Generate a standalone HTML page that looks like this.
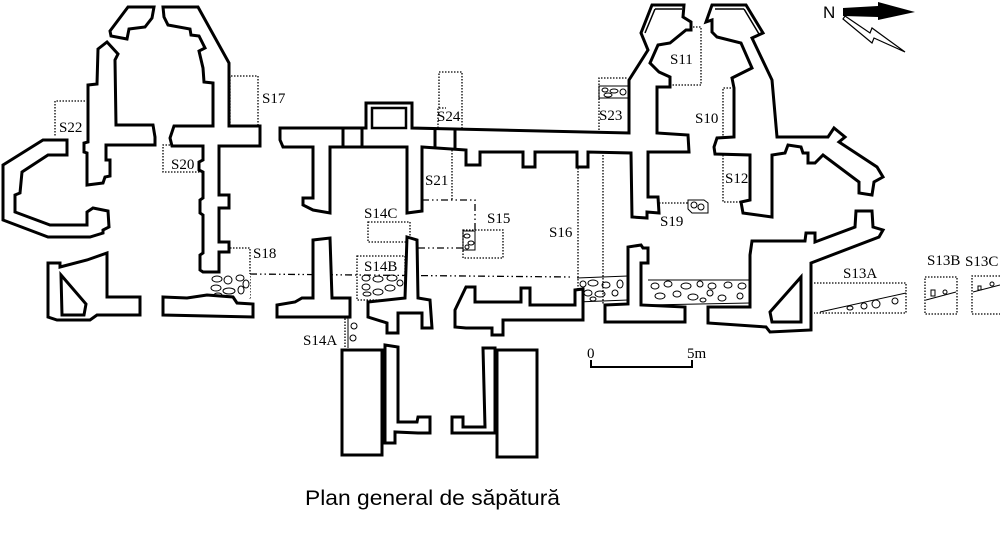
<!DOCTYPE html>
<html><head><meta charset="utf-8"><style>
html,body{margin:0;padding:0;background:#fff;}
svg{display:block;}
.w{fill:#fff;stroke:#000;stroke-width:3;stroke-linejoin:miter;}
.d{fill:none;stroke:#000;stroke-width:1.3;stroke-dasharray:1.5 1.5;}
.dd{fill:none;stroke:#000;stroke-width:1.3;stroke-dasharray:7 3 1.5 3 1.5 3;}
.t{font-family:"Liberation Serif",serif;font-size:15px;fill:#000;}
.s{fill:none;stroke:#000;stroke-width:1;}
</style></head><body>
<svg width="1000" height="534" viewBox="0 0 1000 534" xmlns="http://www.w3.org/2000/svg">
<polyline class="d" points="230,126 230,76 258,76 258,126"/>
<polyline class="d" points="85,101 55,101 55,137"/>
<polyline class="d" points="170,145 163,145 163,172 200,172"/>
<polyline class="d" points="230,248 250,248 250,300"/>
<polyline class="d" points="438,128 438,108 446,108"/>
<polyline class="d" points="439,108 439,72 462,72 462,128"/>
<polyline class="d" points="452,150 452,200"/>
<polyline class="dd" points="422,200 475,200 475,230"/>
<polyline class="dd" points="418,248 463,248"/>
<rect class="d" x="463" y="230" width="40" height="28"/>
<polyline class="d" points="578,168 578,305"/>
<polyline class="d" points="603,152 603,305"/>
<polyline class="dd" points="250,274 572,277"/>
<rect class="d" x="368" y="222" width="42" height="20"/>
<rect class="d" x="357" y="256" width="48" height="44"/>
<polyline class="d" points="345,350 345,318 350,318"/>
<polyline class="d" points="672,27 701,27 701,85 672,85"/>
<polyline class="d" points="734,88 723,88 723,137"/>
<polyline class="d" points="723,155 723,202 741,202"/>
<polyline class="d" points="647,203 688,203 M698,212 698,235 647,235 647,213"/>
<polyline class="d" points="599,130 599,78 628,78"/>
<polyline class="d" points="814,283 906,283 906,313 814,313"/>
<rect class="d" x="925" y="277" width="32" height="37"/>
<polyline class="d" points="1000,276 972,276 972,314 1000,314"/>
<g class="s">
<rect x="210" y="274" width="40" height="24" fill="#fff" stroke="none"/>
<ellipse cx="217" cy="279" rx="5" ry="3"/><ellipse cx="228" cy="280" rx="4" ry="4"/><ellipse cx="240" cy="278" rx="4" ry="3"/><ellipse cx="246" cy="284" rx="3" ry="4"/>
<ellipse cx="216" cy="288" rx="5" ry="3"/><ellipse cx="229" cy="291" rx="6" ry="3"/><ellipse cx="241" cy="290" rx="3" ry="4"/><ellipse cx="218" cy="295" rx="4" ry="2"/>
<ellipse cx="366" cy="278" rx="4" ry="3"/><ellipse cx="378" cy="279" rx="5" ry="3"/><ellipse cx="392" cy="278" rx="5" ry="3"/><ellipse cx="400" cy="283" rx="3" ry="3"/>
<ellipse cx="366" cy="287" rx="4" ry="3"/><ellipse cx="378" cy="292" rx="5" ry="3"/><ellipse cx="390" cy="288" rx="5" ry="3"/><ellipse cx="367" cy="294" rx="4" ry="2"/>
<polyline points="348,318 348,348 M360,318 360,348"/><ellipse cx="354" cy="326" rx="3" ry="3"/><ellipse cx="353" cy="338" rx="3" ry="3"/>
<rect x="463" y="231" width="12" height="19"/><ellipse cx="467" cy="236" rx="3" ry="2"/><ellipse cx="471" cy="243" rx="3" ry="2"/><ellipse cx="467" cy="247" rx="2" ry="2"/>
<rect x="599" y="86" width="29" height="12"/><ellipse cx="605" cy="90" rx="3" ry="2"/><ellipse cx="614" cy="91" rx="4" ry="2"/><ellipse cx="623" cy="92" rx="3" ry="3"/><ellipse cx="608" cy="95" rx="4" ry="2"/>
<path d="M688,200 L704,200 L708,203 L708,213 L692,213 L688,209 Z"/><circle cx="694" cy="205" r="3"/><circle cx="701" cy="207" r="3"/>
<line x1="577" y1="278" x2="628" y2="276"/><line x1="577" y1="302" x2="628" y2="300"/>
<ellipse cx="583" cy="284" rx="3" ry="3"/><ellipse cx="593" cy="283" rx="5" ry="3"/><ellipse cx="606" cy="285" rx="4" ry="3"/><ellipse cx="620" cy="284" rx="3" ry="4"/>
<ellipse cx="588" cy="293" rx="4" ry="3"/><ellipse cx="600" cy="294" rx="5" ry="3"/><ellipse cx="615" cy="293" rx="3" ry="3"/><ellipse cx="593" cy="299" rx="3" ry="2"/>
<line x1="648" y1="280" x2="750" y2="280"/><line x1="648" y1="305" x2="750" y2="303"/>
<ellipse cx="655" cy="286" rx="4" ry="3"/><ellipse cx="668" cy="284" rx="4" ry="3"/><ellipse cx="686" cy="286" rx="5" ry="3"/><ellipse cx="700" cy="284" rx="3" ry="3"/><ellipse cx="712" cy="286" rx="4" ry="3"/><ellipse cx="728" cy="285" rx="4" ry="3"/><ellipse cx="742" cy="286" rx="4" ry="3"/>
<ellipse cx="660" cy="296" rx="5" ry="3"/><ellipse cx="677" cy="294" rx="4" ry="3"/><ellipse cx="693" cy="297" rx="5" ry="3"/><ellipse cx="710" cy="293" rx="3" ry="3"/><ellipse cx="722" cy="298" rx="4" ry="3"/><ellipse cx="740" cy="296" rx="3" ry="3"/><ellipse cx="703" cy="300" rx="3" ry="2"/>
<polyline points="820,312 906,293"/><ellipse cx="850" cy="308" rx="3" ry="2"/><ellipse cx="864" cy="306" rx="3" ry="3"/><ellipse cx="876" cy="304" rx="4" ry="4"/><ellipse cx="895" cy="301" rx="3" ry="3"/>
<polyline points="926,300 956,292 M926,294 956,286"/><rect x="931" y="290" width="4" height="6"/><circle cx="945" cy="292" r="2"/>
<polyline points="973,292 1000,285 M973,286 1000,279"/><rect x="978" y="286" width="3" height="4"/><circle cx="992" cy="284" r="2"/>
</g>
<polygon class="w" points="110,31 128,7 154,7 152,18 145,27 129,29 127,39 111,36"/>
<polygon class="w" points="163,7 198,7 229,63 229,126 260,126 260,146 219,146 219,195 229,195 229,208 219,208 219,242 229,242 229,252 219,252 219,272 203,272 200,270 200,255 203,253 203,215 200,213 200,200 203,198 203,172 199,170 199,162 203,160 203,146 172,146 170,138 174,126 213,126 213,83 204,82 203,68 199,51 205,48 199,36 191,35 190,29 168,25 164,17"/>
<polygon class="w" points="98,49 107,42 118,54 115,60 116,125 153,125 155,137 155,145 106,145 106,160 110,160 110,176 105,177 103,183 87,185 87,153 84,152 84,143 88,142 88,85 97,84"/>
<polygon class="w" points="3,165 43,140 67,140 67,155 48,155 22,172 20,193 15,195 15,212 50,225 87,225 87,212 93,208 108,211 109,227 103,230 103,233 90,237 48,237 3,220"/>
<polygon class="w" points="48,263 60,263 60,267 87,260 107,253 107,297 140,297 140,315 97,315 90,320 57,320 48,317"/>
<polygon class="w" points="61,275 86,304 84,315 62,315"/>
<polygon class="w" points="163,297 187,298 207,295 233,297 237,303 253,304 253,317 163,315"/>
<polygon class="w" points="280,128 366,128 366,103 412,103 412,128 629,133 629,80 648,50 641,33 652,5 684,5 683,17 691,22 691,30 686,30 670,43 658,45 650,63 659,72 670,77 670,87 657,87 657,133 688,135 689,152 648,152 648,197 658,197 659,213 647,212 647,218 632,217 631,153 588,152 588,167 577,167 577,152 535,152 535,167 523,167 523,152 480,152 480,165 466,165 466,150 422,147 422,211 407,213 407,147 330,147 330,213 313,210 303,205 303,198 313,198 313,147 283,147 280,140"/>
<polygon class="w" points="372,108 406,108 406,128 372,128" style="stroke-width:2.5"/>
<line x1="343" y1="128" x2="343" y2="147" stroke="#000" stroke-width="3"/>
<line x1="362" y1="128" x2="362" y2="147" stroke="#000" stroke-width="3"/>
<line x1="435" y1="128" x2="435" y2="148" stroke="#000" stroke-width="3"/>
<line x1="455" y1="129" x2="455" y2="149" stroke="#000" stroke-width="3"/>
<polygon class="w" points="712,5 746,5 763,33 752,38 772,80 777,137 828,137 834,128 845,137 839,142 877,167 883,177 874,182 872,195 859,193 859,182 823,155 815,163 808,163 808,153 803,153 801,147 788,145 785,153 772,155 772,217 743,213 741,202 750,200 750,155 715,154 714,147 717,138 734,137 734,88 732,78 752,68 741,43 717,37 712,32 712,20 706,22"/>
<line x1="715" y1="9" x2="744" y2="9" stroke="#000" stroke-width="1.5"/>
<line x1="744" y1="9" x2="759" y2="34" stroke="#000" stroke-width="1.5"/>
<line x1="655" y1="9" x2="682" y2="9" stroke="#000" stroke-width="1.5"/>
<line x1="655" y1="9" x2="645" y2="33" stroke="#000" stroke-width="1.5"/>
<polygon class="w" points="277,305 295,302 302,298 313,298 313,240 330,238 332,298 350,298 350,317 277,317"/>
<polygon class="w" points="407,237 417,240 418,298 430,300 432,328 422,328 422,313 398,313 398,333 387,333 387,323 368,317 368,302 405,298"/>
<polygon class="w" points="455,310 466,287 475,287 475,302 521,302 521,288 530,288 530,305 575,305 575,290 583,289 583,320 503,320 503,335 492,335 492,328 466,328 455,327"/>
<polygon class="w" points="605,305 628,304 628,247 641,245 643,248 648,248 648,263 641,263 641,305 685,307 685,322 605,322"/>
<polygon class="w" points="708,307 750,307 750,255 752,241 805,241 806,233 815,233 815,242 855,227 856,211 872,211 873,227 883,230 879,237 811,263 811,330 770,332 766,327 708,323"/>
<polygon class="w" points="770,312 801,277 801,322 772,322"/>
<rect class="w" x="342" y="350" width="40" height="105"/>
<polygon class="w" points="385,345 398,347 398,422 417,422 418,417 430,417 430,433 418,433 395,432 395,443 385,443"/>
<rect class="w" x="497" y="350" width="40" height="107"/>
<polygon class="w" points="483,348 495,348 495,433 452,433 452,417 463,417 463,427 485,427"/>
<polyline points="591,360 591,367 692,367 692,360" fill="none" stroke="#000" stroke-width="2"/>
<text class="t" x="587" y="358">0</text>
<text class="t" x="687" y="358">5m</text>
<text x="823" y="18" font-family="Liberation Sans,sans-serif" font-size="17" fill="#000">N</text>
<polygon points="843,8 878,6 878,2 915,12 878,20 878,17 843,16" fill="#000"/>
<polygon points="845,16 870,33 872,28 905,52 874,38 872,43 843,19" fill="#fff" stroke="#000" stroke-width="1.2"/>
<text class="t" x="262" y="103">S17</text>
<text class="t" x="59" y="132">S22</text>
<text class="t" x="171" y="169">S20</text>
<text class="t" x="253" y="258">S18</text>
<text class="t" x="364" y="218">S14C</text>
<text class="t" x="364" y="271">S14B</text>
<text class="t" x="303" y="345">S14A</text>
<text class="t" x="425" y="185">S21</text>
<text class="t" x="437" y="121">S24</text>
<text class="t" x="487" y="223">S15</text>
<text class="t" x="549" y="237">S16</text>
<text class="t" x="599" y="120">S23</text>
<text class="t" x="670" y="64">S11</text>
<text class="t" x="695" y="123">S10</text>
<text class="t" x="725" y="183">S12</text>
<text class="t" x="660" y="226">S19</text>
<text class="t" x="843" y="278">S13A</text>
<text class="t" x="927" y="265">S13B</text>
<text class="t" x="965" y="266">S13C</text>
<text x="305" y="505" font-family="Liberation Sans,sans-serif" font-size="21" textLength="255" lengthAdjust="spacingAndGlyphs" fill="#000">Plan general de săpătură</text>
</svg>
</body></html>
